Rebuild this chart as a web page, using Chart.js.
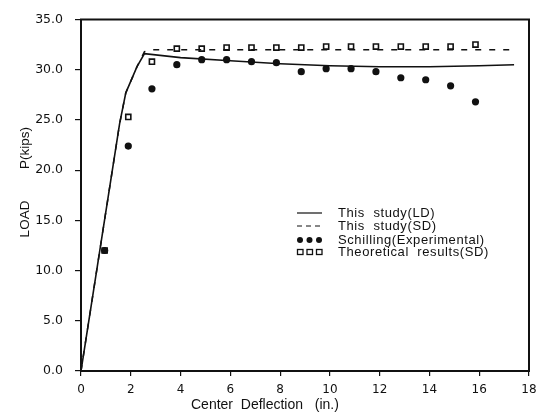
<!DOCTYPE html>
<html><head><meta charset="utf-8">
<script src="https://cdn.jsdelivr.net/npm/chart.js@4.4.1/dist/chart.umd.min.js"></script>
<style>html,body{margin:0;padding:0;background:#fff}#wrap{width:550px;height:416px}</style>
</head><body><div id="wrap"><canvas id="c" width="550" height="416"></canvas></div>
<script>
// ---- data ----
const xTicks = [0,2,4,6,8,10,12,14,16,18];
const yTicks = [0,5,10,15,20,25,30,35];
const ldX = [0, 0.85, 1.55, 1.8, 2.25, 2.55, 4, 6, 8, 10, 12, 14, 16, 17.4];
const ldY = [0, 13.5, 24.6, 27.7, 30.3, 31.6, 31.2, 30.9, 30.6, 30.4, 30.3, 30.3, 30.4, 30.5];
const sdX = [0, 0.85, 1.55, 1.8, 2.25, 2.55, 2.9, 6, 10, 14, 17.4];
const sdY = [0, 13.5, 24.6, 27.7, 30.3, 31.8, 32.0, 32.0, 32.0, 32.0, 32.0];
const ptX = [0.95, 1.9, 2.85, 3.85, 4.85, 5.85, 6.85, 7.85, 8.85, 9.85, 10.85, 11.85, 12.85, 13.85, 14.85, 15.85];
const expY = [12.0, 22.4, 28.1, 30.5, 31.0, 31.0, 30.8, 30.7, 29.8, 30.1, 30.1, 29.8, 29.2, 29.0, 28.4, 26.8];
const theoY = [12.0, 25.3, 30.8, 32.1, 32.1, 32.2, 32.2, 32.2, 32.2, 32.3, 32.3, 32.3, 32.3, 32.3, 32.3, 32.5];
const seriesNames = ["This  study(LD)", "This  study(SD)", "Schilling(Experimental)", "Theoretical  results(SD)"];
const xTitle = "Center  Deflection   (in.)";
const yTitleA = "LOAD", yTitleB = "P(kips)";

const pts = (xs, ys) => xs.map((x,i)=>({x:x, y:ys[i]}));
const FONT = "'DejaVu Sans', sans-serif";
const TFONT = "'Liberation Sans', Arial, sans-serif";

const overlay = {
  id:'overlay',
  afterDraw(chart){
    const {ctx, chartArea:a} = chart;
    ctx.save();
    ctx.strokeStyle='#111'; ctx.lineWidth=2;
    ctx.strokeRect(a.left, a.top, a.right-a.left, a.bottom-a.top);
    // axis titles
    ctx.fillStyle='#111';
    ctx.font = "14px "+TFONT;
    ctx.textAlign='left'; ctx.textBaseline='middle';
    ctx.fillText(xTitle, 191, 405);
    ctx.save();
    ctx.translate(25, 0); ctx.rotate(-Math.PI/2);
    ctx.font = "13.5px "+TFONT;
    ctx.textAlign='center';
    ctx.fillText(yTitleB, -148, 0);
    ctx.fillText(yTitleA, -219, 0);
    ctx.restore();
    // legend
    const lx0 = 297, lx1 = 322, tx = 338, rows=[213,226,240,252];
    ctx.font = "13px "+TFONT; ctx.textAlign='left'; ctx.textBaseline='middle';
    try { ctx.letterSpacing = '0.6px'; } catch(e) {}
    ctx.lineWidth=1.2;
    ctx.beginPath(); ctx.moveTo(lx0,rows[0]); ctx.lineTo(lx1,rows[0]); ctx.stroke();
    ctx.setLineDash([5,4]);
    ctx.beginPath(); ctx.moveTo(lx0,rows[1]); ctx.lineTo(lx1,rows[1]); ctx.stroke();
    ctx.setLineDash([]);
    for (let k=0;k<3;k++){
      ctx.beginPath(); ctx.arc(lx0+3+k*9.5, rows[2], 3, 0, Math.PI*2); ctx.fill();
      ctx.lineWidth=1.3;
      ctx.strokeRect(lx0+0.5+k*9.5, rows[3]-2.5, 5.5, 5);
    }
    seriesNames.forEach((n,i)=>ctx.fillText(n, tx, rows[i]));
    ctx.restore();
  }
};

new Chart(document.getElementById('c'), {
  type:'scatter',
  data:{datasets:[
    {label:seriesNames[0], data:pts(ldX,ldY), showLine:true, borderColor:'#111', borderWidth:1.6, pointRadius:0, fill:false},
    {label:seriesNames[1], data:pts(sdX,sdY), showLine:true, borderColor:'#111', borderWidth:1.5, borderDash:[6,8], pointRadius:0, fill:false},
    {label:seriesNames[2], data:pts(ptX,expY), showLine:false, pointStyle:'circle', pointRadius:3.6, backgroundColor:'#111', borderColor:'#111', borderWidth:0},
    {label:seriesNames[3], data:pts(ptX,theoY), showLine:false, pointStyle:'rect', pointRadius:3.6, backgroundColor:'rgba(255,255,255,0)', borderColor:'#111', borderWidth:1.6}
  ]},
  options:{
    responsive:false, animation:false, devicePixelRatio:1,
    layout:{padding:{left:0, top:13, right:21, bottom:0}},
    plugins:{legend:{display:false}, tooltip:{enabled:false}},
    scales:{
      x:{type:'linear', min:0, max:18,
         afterBuildTicks:(s)=>{s.ticks = xTicks.map(v=>({value:v}));},
         afterFit:(s)=>{s.height = 45;},
         ticks:{color:'#111', font:{family:FONT, size:12}, padding:7, maxRotation:0},
         grid:{drawOnChartArea:false, drawTicks:true, tickLength:5, color:'#111', lineWidth:1.2},
         border:{display:true, color:'#111', width:2}},
      y:{type:'linear', min:0, max:35,
         afterBuildTicks:(s)=>{s.ticks = yTicks.map(v=>({value:v}));},
         afterFit:(s)=>{s.width = 81;},
         ticks:{color:'#111', font:{family:FONT, size:12.5}, padding:12, callback:(v)=>Number(v).toFixed(1)},
         grid:{drawOnChartArea:false, drawTicks:true, tickLength:6, color:'#111', lineWidth:1.2},
         border:{display:true, color:'#111', width:2}}
    }
  },
  plugins:[overlay]
});
</script></body></html>
